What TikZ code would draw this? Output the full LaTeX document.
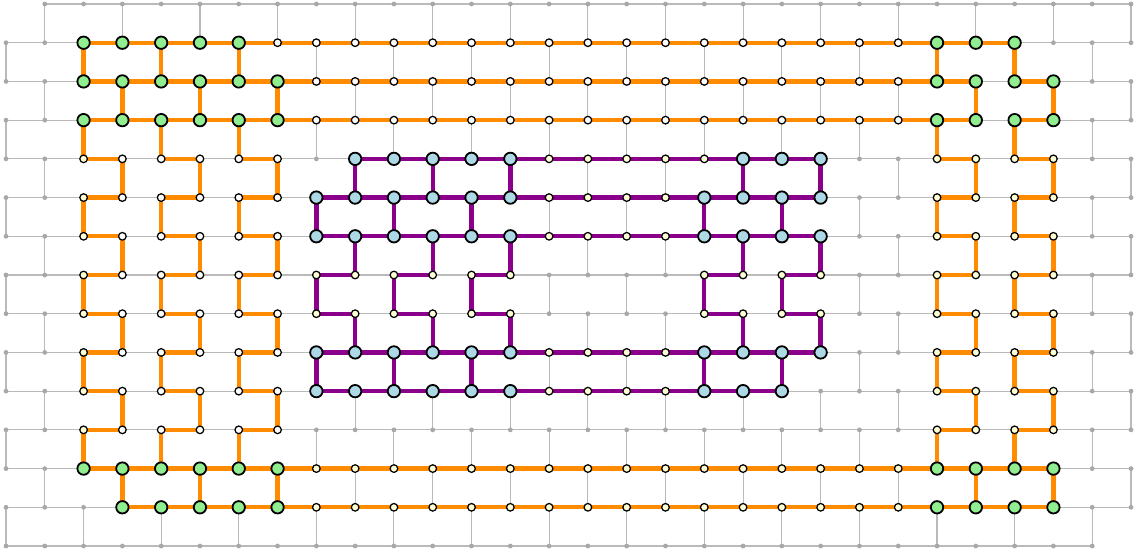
\documentclass[tikz,border=0pt]{standalone}
\usetikzlibrary{backgrounds}
\definecolor{gridgray}{RGB}{186,186,186}
\definecolor{dotgray}{RGB}{168,168,168}
\definecolor{edgeorange}{RGB}{255,140,0}
\definecolor{edgepurple}{RGB}{139,0,139}
\definecolor{nodegreen}{RGB}{144,238,144}
\definecolor{nodeblue}{RGB}{173,216,230}
\definecolor{nodecream}{RGB}{255,255,214}
\newcommand\qSetType[3]{\expandafter\xdef\csname qpt@#1@#2\endcsname{#3}}
\newcommand\qTypeRow[4]{\foreach \qi in {#2,...,#3}{\qSetType{\qi}{#1}{#4}}}
\newcommand\qH[4]{%
  \pgfmathtruncatemacro\qlast{#4-1}%
  \foreach \qi in {#3,...,\qlast}{\pgfmathtruncatemacro\qin{\qi+1}\draw[#1] (n-\qi-#2.center) -- (n-\qin-#2.center);}}
\newcommand\qV[3]{\pgfmathtruncatemacro\qjn{#3+1}\draw[#1] (n-#2-#3.center) -- (n-#2-\qjn.center);}
\tikzset{
  greydot/.style={circle,fill=dotgray,inner sep=0pt,minimum size=4.8pt},
  whitenode/.style={circle,draw=black,line width=1.25pt,fill=white,inner sep=0pt,minimum size=7.6pt},
  creamnode/.style={circle,draw=black,line width=1.25pt,fill=nodecream,inner sep=0pt,minimum size=7.6pt},
  greennode/.style={circle,draw=black,line width=1.8pt,fill=nodegreen,inner sep=0pt,minimum size=12.4pt},
  bluenode/.style={circle,draw=black,line width=1.8pt,fill=nodeblue,inner sep=0pt,minimum size=12.4pt},
  gridline/.style={draw=gridgray,line width=1.1pt},
  oedge/.style={draw=edgeorange,line width=4.4pt},
  pedge/.style={draw=edgepurple,line width=4.4pt}
}
\begin{document}
\begin{tikzpicture}
\useasboundingbox (0pt,0pt) rectangle (1137pt,-554pt);
% ---- node types ----
\qTypeRow{1}{2}{6}{greennode}\qTypeRow{1}{24}{26}{greennode}\qTypeRow{1}{7}{23}{whitenode}
\foreach \j in {2,3}{\qTypeRow{\j}{2}{7}{greennode}\qTypeRow{\j}{24}{27}{greennode}\qTypeRow{\j}{8}{23}{whitenode}}
\foreach \j in {4,...,11}{\qTypeRow{\j}{3}{7}{whitenode}\qSetType{2}{\j}{creamnode}\qTypeRow{\j}{24}{27}{creamnode}}
\qTypeRow{12}{2}{7}{greennode}\qTypeRow{12}{24}{27}{greennode}\qTypeRow{12}{8}{23}{creamnode}
\qTypeRow{13}{3}{7}{greennode}\qTypeRow{13}{24}{27}{greennode}\qTypeRow{13}{8}{23}{creamnode}
\qTypeRow{4}{9}{13}{bluenode}\qTypeRow{4}{19}{21}{bluenode}\qTypeRow{4}{14}{18}{creamnode}
\foreach \j in {5,6,9}{\qTypeRow{\j}{8}{13}{bluenode}\qTypeRow{\j}{18}{21}{bluenode}\qTypeRow{\j}{14}{17}{creamnode}}
\qTypeRow{10}{8}{13}{bluenode}\qTypeRow{10}{18}{20}{bluenode}\qTypeRow{10}{14}{17}{creamnode}
\foreach \j in {7,8}{\qTypeRow{\j}{8}{13}{creamnode}\qTypeRow{\j}{18}{21}{creamnode}}
% ---- nodes ----
\foreach \j in {0,...,14}{
  \foreach \i in {0,...,29}{
    \pgfmathtruncatemacro\qskip{((\j==0)&&(\i==0))||((\j==14)&&(\i==29))}
    \ifnum\qskip=0
      \pgfmathsetmacro\qx{6+38.793*\i}
      \pgfmathsetmacro\qy{-4-38.714*\j}
      \ifcsname qpt@\i @\j\endcsname\edef\qtp{\csname qpt@\i @\j\endcsname}\else\def\qtp{greydot}\fi
      \edef\qnode{\noexpand\node[\qtp] (n-\i-\j) at (\qx pt,\qy pt) {};}
      \qnode
    \fi
  }
}
% ---- edges ----
\begin{pgfonlayer}{background}
\foreach \j in {0,...,14}{
  \pgfmathtruncatemacro\qa{\j==0 ? 1 : 0}
  \pgfmathtruncatemacro\qb{\j==14 ? 27 : 28}
  \foreach \i in {\qa,...,\qb}{\pgfmathtruncatemacro\qii{\i+1}\draw[gridline] (n-\i-\j.center) -- (n-\qii-\j.center);}
}
\foreach \j in {0,2,...,12}{\pgfmathtruncatemacro\qjj{\j+1}\foreach \i in {1,3,...,29}{\draw[gridline] (n-\i-\j.center) -- (n-\i-\qjj.center);}}
\foreach \j in {1,3,...,13}{\pgfmathtruncatemacro\qjj{\j+1}\foreach \i in {0,2,...,28}{\draw[gridline] (n-\i-\j.center) -- (n-\i-\qjj.center);}}
% orange
\qH{oedge}{1}{2}{26}
\qH{oedge}{2}{2}{25}\qH{oedge}{2}{26}{27}
\qH{oedge}{3}{2}{25}\qH{oedge}{3}{26}{27}
\foreach \j in {4,...,11}{\foreach \a in {2,4,6,24,26}{\pgfmathtruncatemacro\qbb{\a+1}\qH{oedge}{\j}{\a}{\qbb}}}
\qH{oedge}{12}{2}{27}
\qH{oedge}{13}{3}{27}
\foreach \j in {1,3,...,11}{\foreach \i in {2,4,6,24,26}{\qV{oedge}{\i}{\j}}}
\foreach \j in {2,4,...,12}{\foreach \i in {3,5,7,25,27}{\qV{oedge}{\i}{\j}}}
% purple
\qH{pedge}{4}{9}{21}
\foreach \j in {5,6,9}{\qH{pedge}{\j}{8}{21}}
\qH{pedge}{10}{8}{20}
\foreach \j in {7,8}{\foreach \a in {8,10,12,18,20}{\pgfmathtruncatemacro\qbb{\a+1}\qH{pedge}{\j}{\a}{\qbb}}}
\foreach \j in {4,6,8}{\foreach \i in {9,11,13,19,21}{\qV{pedge}{\i}{\j}}}
\foreach \j in {5,7,9}{\foreach \i in {8,10,12,18,20}{\qV{pedge}{\i}{\j}}}
\end{pgfonlayer}
\end{tikzpicture}
\end{document}
